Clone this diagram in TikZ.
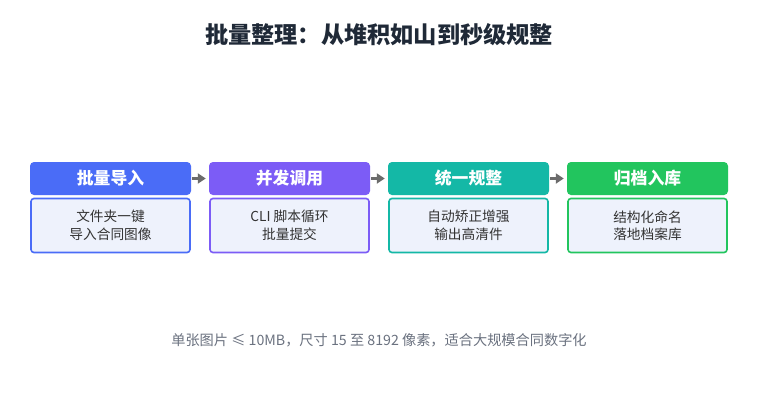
\documentclass[tikz,border=0pt]{standalone}
\usepackage{fontspec}
\setmainfont{Noto Sans CJK SC}
\usepackage{tikz}
\usetikzlibrary{arrows.meta}

\definecolor{cblue}{HTML}{4A6CF7}
\definecolor{cpurple}{HTML}{7C5CF6}
\definecolor{cteal}{HTML}{14B8A6}
\definecolor{cgreen}{HTML}{22C55E}
\definecolor{bodyfill}{HTML}{EEF2FC}
\definecolor{titlecol}{HTML}{1F2937}
\definecolor{textcol}{HTML}{333333}
\definecolor{notecol}{HTML}{6B7280}
\definecolor{arrcol}{HTML}{6B6B6B}

\tikzset{
  head/.style={fill=#1, rounded corners=4pt, minimum width=161pt, minimum height=33pt,
    inner sep=0pt, text=white, font=\fontsize{16.8}{19}\selectfont\bfseries},
  body/.style={draw=#1, fill=bodyfill, line width=1.6pt, rounded corners=3pt,
    minimum width=159pt, minimum height=54pt, inner sep=0pt, align=center,
    text=textcol, font=\fontsize{13.7}{17.5}\selectfont},
  arr/.style={draw=arrcol, line width=2.5pt, -{Triangle[length=8pt,width=10pt]},
    shorten <=1pt, shorten >=3pt}
}

\begin{document}
\begin{tikzpicture}[x=1pt,y=-1pt]
\useasboundingbox [fill=white] (0,0) rectangle (758,405);
% title
\node [text=titlecol, font=\fontsize{23.2}{27}\selectfont\bfseries] (title) at (379,35)
  {批量整理：从堆积如山到秒级规整};
% headers
\node [head=cblue] (h1) at (110.5,178.5) {批量导入};
\node [head=cpurple] (h2) at (289.5,178.5) {并发调用};
\node [head=cteal] (h3) at (468.5,178.5) {统一规整};
\node [head=cgreen] (h4) at (647.5,178.5) {归档入库};
% bodies
\node [body=cblue] (b1) at (110.5,225.5) {文件夹一键\\导入合同图像};
\node [body=cpurple] (b2) at (289.5,225.5) {CLI 脚本循环\\批量提交};
\node [body=cteal] (b3) at (468.5,225.5) {自动矫正增强\\输出高清件};
\node [body=cgreen] (b4) at (647.5,225.5) {结构化命名\\落地档案库};
% arrows
\draw [arr] (h1.east) -- (h2.west);
\draw [arr] (h2.east) -- (h3.west);
\draw [arr] (h3.east) -- (h4.west);
% note
\node [text=notecol, font=\fontsize{14.2}{16}\selectfont] (note) at (379,340)
  {单张图片 ≤ 10MB，尺寸 15 至 8192 像素，适合大规模合同数字化};
\end{tikzpicture}
\end{document}
